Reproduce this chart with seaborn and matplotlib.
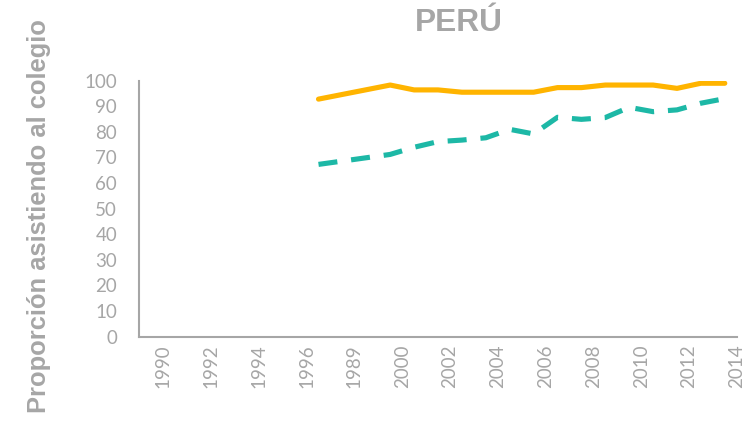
import numpy as np
import pandas as pd
import matplotlib
matplotlib.use("Agg")
import matplotlib.pyplot as plt
import seaborn as sns

# ---- data ----
tick_labels = ["1990", "1992", "1994", "1996", "1989", "2000", "2002",
               "2004", "2006", "2008", "2010", "2012", "2014"]
years_all = list(range(1990, 2015))

years_a = [1997, 2000, 2001, 2002, 2003, 2004, 2005, 2006, 2007, 2008,
           2009, 2010, 2011, 2012, 2013, 2014]
serie_a = [92.8, 98.3, 96.4, 96.4, 95.5, 95.5, 95.5, 95.5, 97.3, 97.3,
           98.3, 98.3, 98.3, 97.0, 99.0, 99.0]

years_b = [1997, 2000, 2001, 2002, 2003, 2004, 2005, 2006, 2007, 2008,
           2009, 2010, 2011, 2012, 2013, 2014]
serie_b = [67.3, 71.2, 74.0, 76.2, 76.8, 77.7, 81.0, 79.2, 85.7, 84.9,
           85.6, 89.6, 87.9, 88.6, 91.2, 93.0]

GRAY = "#A6A6A6"
ORANGE = "#FFB400"
TEAL = "#1DB8A6"

sns.set_style("white")
plt.rcParams["font.family"] = ["Lato", "DejaVu Sans"]

df_a = pd.DataFrame({"year": years_a, "valor": serie_a})
df_b = pd.DataFrame({"year": years_b, "valor": serie_b})
df_a["pos"] = df_a["year"] - years_all[0]
df_b["pos"] = df_b["year"] - years_all[0]

fig = plt.figure(figsize=(7.52, 4.29), dpi=100)
ax = fig.add_axes([0.1852, 0.2152, 0.7945, 0.5967])

sns.lineplot(data=df_a, x="pos", y="valor", ax=ax, color=ORANGE,
             linewidth=3.7, solid_capstyle="round", solid_joinstyle="round")
sns.lineplot(data=df_b, x="pos", y="valor", ax=ax, color=TEAL,
             linewidth=3.7, dash_capstyle="butt")
ax.lines[1].set_dashes((3.7, 2.7))

n = len(years_all)
ax.set_xlim(-0.5, n - 0.5)
ax.set_ylim(0, 100)

# tick marks between category pairs; labels centered on pair spans
ax.set_xticks(np.arange(-0.5, n - 1, 2))
ax.set_xticklabels([])
ax.set_xticks(np.arange(0.5, n + 0.5, 2), minor=True)
ax.set_xticklabels(tick_labels, minor=True, rotation=90)
ax.tick_params(axis="x", which="minor", length=0, pad=5.5,
               labelsize=13.5, labelcolor=GRAY)
ax.tick_params(axis="x", which="major", length=4, width=1.5,
               color=GRAY, direction="out")

ax.set_yticks(np.arange(0, 101, 10))
ax.tick_params(axis="y", length=4, width=1.5, color=GRAY, direction="out",
               pad=12, labelsize=13.5, labelcolor=GRAY)

for s in ["top", "right"]:
    ax.spines[s].set_visible(False)
for s in ["left", "bottom"]:
    ax.spines[s].set_color(GRAY)
    ax.spines[s].set_linewidth(1.5)

ax.set_xlabel("")
ax.set_ylabel("")
fig.text(0.052, 0.497, "Proporción asistiendo al colegio", rotation=90,
         ha="center", va="center", color=GRAY, fontsize=18.4,
         fontweight="bold", family=["Liberation Sans", "DejaVu Sans"])
fig.text(0.61, 0.946, "PERÚ", ha="center", va="center", color=GRAY,
         fontsize=22.8, fontweight="bold",
         family=["Liberation Sans", "DejaVu Sans"])

fig.savefig("out.png", dpi=100)
